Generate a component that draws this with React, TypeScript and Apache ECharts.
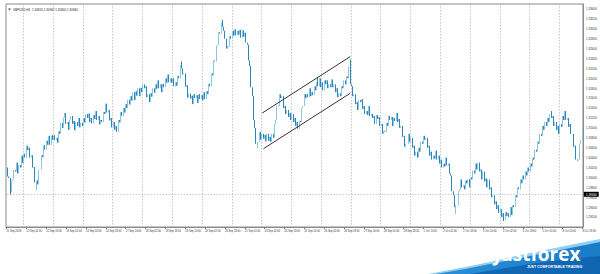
import React, { useEffect, useRef } from 'react';
import * as echarts from 'echarts';

const titleText = 'GBPUSD,H1  1.30820 1.30960 1.30800 1.30940';
const firstLabel = '11 Sep 2018';
const dayNames = ['11 Sep', '12 Sep', '13 Sep', '14 Sep', '17 Sep', '18 Sep', '19 Sep', '20 Sep', '21 Sep', '24 Sep', '25 Sep', '26 Sep', '27 Sep', '28 Sep', '1 Oct', '2 Oct', '3 Oct', '4 Oct', '5 Oct', '8 Oct'];
const firstHour = 10;

const sep11 = [1.3020,1.3002,1.2999,1.2970,1.2994,1.2996,1.3015,1.3012,1.3030,1.3008,1.3025,1.3020,1.3044,1.3029];
const sep12 = [1.3048,1.3040,1.3064,1.3055,1.3060,1.3040,1.3045,1.3020,1.3021,1.2990,1.2994,1.2986,1.3015,1.3016,1.3045,1.3041,1.3065,1.3056,1.3074,1.3066,1.3084,1.3066,1.3085,1.3076];
const sep13 = [1.3085,1.3075,1.3080,1.3070,1.3093,1.3088,1.3110,1.3100,1.3121,1.3130,1.3108,1.3112,1.3096,1.3117,1.3124,1.3108,1.3114,1.3095,1.3112,1.3104,1.3120,1.3101,1.3110,1.3104];
const sep14 = [1.3120,1.3111,1.3128,1.3120,1.3129,1.3112,1.3120,1.3109,1.3126,1.3118,1.3134,1.3116,1.3124,1.3107,1.3116,1.3112,1.3132,1.3128,1.3149,1.3131,1.3136,1.3115,1.3120,1.3101];
const sep17 = [1.3112,1.3096,1.3104,1.3092,1.3116,1.3111,1.3132,1.3124,1.3140,1.3131,1.3148,1.3140,1.3157,1.3147,1.3164,1.3155,1.3172,1.3156,1.3174,1.3165,1.3180,1.3164,1.3181,1.3172];
const sep18 = [1.3188,1.3180,1.3184,1.3162,1.3168,1.3152,1.3170,1.3163,1.3180,1.3171,1.3188,1.3179,1.3196,1.3180,1.3188,1.3172,1.3189,1.3182,1.3200,1.3191,1.3208,1.3192,1.3200,1.3191];
const sep19 = [1.3200,1.3184,1.3192,1.3185,1.3205,1.3200,1.3226,1.3220,1.3208,1.3210,1.3183,1.3186,1.3161,1.3169,1.3159,1.3165,1.3148,1.3168,1.3160,1.3166,1.3150,1.3168,1.3158,1.3166];
const sep20 = [1.3156,1.3172,1.3158,1.3174,1.3168,1.3189,1.3184,1.3210,1.3206,1.3236,1.3234,1.3266,1.3268,1.3293,1.3290,1.3312,1.3304,1.3296,1.3280,1.3260,1.3265,1.3264,1.3285,1.3280];
const sep21 = [1.3296,1.3286,1.3299,1.3287,1.3296,1.3288,1.3298,1.3282,1.3297,1.3284,1.3292,1.3272,1.3268,1.3236,1.3225,1.3182,1.3164,1.3116,1.3100,1.3068,1.3072,1.3072,1.3092,1.3076];
const sep24 = [1.3088,1.3078,1.3086,1.3073,1.3088,1.3074,1.3082,1.3072,1.3088,1.3080,1.3108,1.3116,1.3145,1.3144,1.3168,1.3160,1.3164,1.3140,1.3144,1.3128,1.3136,1.3122,1.3130,1.3116];
const sep25 = [1.3128,1.3112,1.3120,1.3104,1.3112,1.3098,1.3114,1.3112,1.3140,1.3144,1.3168,1.3160,1.3168,1.3162,1.3180,1.3164,1.3172,1.3166,1.3184,1.3176,1.3192,1.3184,1.3200,1.3182];
const sep26 = [1.3192,1.3176,1.3196,1.3188,1.3196,1.3180,1.3188,1.3182,1.3198,1.3182,1.3188,1.3172,1.3180,1.3162,1.3170,1.3164,1.3184,1.3180,1.3196,1.3188,1.3204,1.3200,1.3224,1.3188];
const sep27 = [1.3184,1.3164,1.3168,1.3148,1.3152,1.3136,1.3156,1.3152,1.3158,1.3138,1.3144,1.3128,1.3134,1.3126,1.3144,1.3124,1.3128,1.3120,1.3124,1.3108,1.3126,1.3118,1.3122,1.3104];
const sep28 = [1.3108,1.3088,1.3094,1.3092,1.3110,1.3104,1.3124,1.3116,1.3122,1.3104,1.3120,1.3114,1.3130,1.3112,1.3118,1.3100,1.3104,1.3082,1.3084,1.3062,1.3068,1.3068,1.3088,1.3072];
const oct1 = [1.3080,1.3060,1.3064,1.3044,1.3052,1.3040,1.3060,1.3052,1.3072,1.3068,1.3084,1.3076,1.3080,1.3060,1.3064,1.3044,1.3052,1.3036,1.3044,1.3038,1.3054,1.3036,1.3044,1.3028];
const oct2 = [1.3036,1.3020,1.3028,1.3022,1.3040,1.3024,1.3028,1.3008,1.3004,1.2972,1.2964,1.2940,1.2944,1.2944,1.2972,1.2976,1.2996,1.2980,1.2984,1.2976,1.2994,1.2988,1.2996,1.2980];
const oct3 = [1.3000,1.2996,1.3014,1.3008,1.3028,1.3016,1.3030,1.3012,1.3016,1.2996,1.3012,1.2992,1.2998,1.2980,1.2996,1.2976,1.2980,1.2960,1.2964,1.2946,1.2952,1.2936,1.2944,1.2928];
const oct4 = [1.2936,1.2920,1.2928,1.2914,1.2930,1.2922,1.2928,1.2920,1.2940,1.2924,1.2944,1.2940,1.2964,1.2960,1.2980,1.2976,1.2996,1.2988,1.3004,1.2996,1.3012,1.3004,1.3020,1.3012];
const oct5 = [1.3028,1.3022,1.3040,1.3036,1.3056,1.3052,1.3072,1.3068,1.3088,1.3084,1.3104,1.3096,1.3112,1.3104,1.3120,1.3112,1.3128,1.3120,1.3124,1.3104,1.3112,1.3096,1.3104,1.3088];
const oct8 = [1.3108,1.3102,1.3124,1.3116,1.3134,1.3116,1.3120,1.3102,1.3108,1.3088,1.3088,1.3062,1.3064,1.3036,1.3034,1.3036,1.3068,1.3076,1.3100];

const dayCloses = [sep11, sep12, sep13, sep14, sep17, sep18, sep19, sep20, sep21, sep24, sep25, sep26, sep27, sep28, oct1, oct2, oct3, oct4, oct5, oct8];

// wick extremes: [bar index, price]
const spikeHighs: [number, number][] = [[141, 1.3234], [174, 1.3318], [251, 1.3202], [277, 1.3238], [439, 1.3134]];
const spikeLows: [number, number][] = [[3, 1.2964], [24, 1.2974], [202, 1.3058], [362, 1.2926], [401, 1.2912]];

// trend channel end points: [bar index, price]
const channelUpper: [number, number][] = [[206, 1.3130], [277, 1.3244]];
const channelLower: [number, number][] = [[207, 1.3058], [277, 1.3170]];
const levelLine = 1.2966;
const levelText = '1.29660';

const yMin = 1.29;
const yMax = 1.335;
const yStep = 0.001;

export default function App() {
  const ref = useRef<HTMLDivElement>(null);
  useEffect(() => {
    if (!ref.current) return;
    const chart = echarts.init(ref.current, undefined, { renderer: 'svg' });

    const categories: string[] = [];
    const closes: number[] = [];
    dayCloses.forEach((arr, d) => {
      arr.forEach((c, j) => {
        const h = d === 0 ? firstHour + j : j;
        categories.push(`${dayNames[d]} ${String(h).padStart(2, '0')}:00`);
        closes.push(c);
      });
    });
    const hiMap = new Map(spikeHighs);
    const loMap = new Map(spikeLows);
    const ohlc = closes.map((c, i) => {
      const o = i === 0 ? c : closes[i - 1];
      let lo = Math.min(o, c);
      let hi = Math.max(o, c);
      if (hiMap.has(i)) hi = Math.max(hi, hiMap.get(i)!);
      if (loMap.has(i)) lo = Math.min(lo, loMap.get(i)!);
      return [o, c, lo, hi];
    });
    const lastIdx = categories.length - 1;

    const font = 'Liberation Sans';
    chart.setOption({
      animation: false,
      backgroundColor: '#ffffff',
      grid: { left: 6, right: 17, top: 4, bottom: 47, show: true, borderColor: '#8a8a8a', borderWidth: 1 },
      xAxis: {
        type: 'category',
        data: categories,
        boundaryGap: true,
        axisLine: { lineStyle: { color: '#8a8a8a', width: 1 } },
        axisTick: { show: true, interval: (i: number) => i % 16 === 0, length: 2, alignWithLabel: true, lineStyle: { color: '#777' } },
        axisLabel: {
          interval: (i: number) => i % 16 === 0,
          formatter: (v: string, i: number) => (i === 0 ? firstLabel : v),
          fontSize: 2.6,
          fontFamily: font,
          color: '#333',
          align: 'left',
          margin: 3,
        },
        splitLine: {
          show: true,
          interval: (_i: number, v: string) => v.endsWith(' 00:00'),
          lineStyle: { color: '#b8b8b8', type: [1.5, 1.5], width: 0.8 },
        },
      },
      yAxis: {
        type: 'value',
        position: 'right',
        min: yMin,
        max: yMax,
        interval: yStep,
        axisLine: { show: true, lineStyle: { color: '#8a8a8a', width: 1 } },
        axisTick: { show: false },
        splitLine: { show: false },
        axisLabel: {
          fontSize: 3,
          fontFamily: font,
          color: '#333',
          margin: 3,
          formatter: (v: number) => (Math.round(v * 1000) % 2 === 0 && v < yMax - 1e-9 && v > yMin + 1e-9 ? v.toFixed(5) : ''),
        },
      },
      series: [
        {
          type: 'candlestick',
          data: ohlc,
          barWidth: 1,
          itemStyle: {
            color: '#8fc6e0',
            color0: '#2e86bd',
            borderColor: '#8fc6e0',
            borderColor0: '#2e86bd',
            borderWidth: 1,
          },
          markLine: {
            silent: true,
            symbol: ['none', 'none'],
            animation: false,
            lineStyle: { color: '#333', width: 1, type: 'solid' },
            label: { show: false },
            data: [
              [
                { coord: [channelUpper[0][0], channelUpper[0][1]] },
                { coord: [channelUpper[1][0], channelUpper[1][1]] },
              ],
              [
                { coord: [channelLower[0][0], channelLower[0][1]] },
                { coord: [channelLower[1][0], channelLower[1][1]] },
              ],
              [
                {
                  coord: [0, levelLine],
                  lineStyle: { color: '#bcbcbc', width: 0.8, type: [1.5, 1.5] },
                  label: {
                    show: true,
                    position: 'end',
                    formatter: levelText,
                    backgroundColor: '#000',
                    color: '#fff',
                    fontSize: 3,
                    fontFamily: font,
                    padding: [1, 2],
                    distance: 1.5,
                  },
                },
                { coord: [lastIdx, levelLine] },
              ],
            ],
          },
        },
      ],
      graphic: [
        {
          type: 'polygon',
          shape: { points: [[8, 8.5], [11, 8.5], [9.5, 10.5]] },
          style: { fill: '#555' },
        },
        {
          type: 'text',
          x: 13,
          y: 7.8,
          style: { text: titleText, fontSize: 3, fontFamily: font, fill: '#222' },
        },
        {
          type: 'polygon',
          shape: {
            points: [[428, 274], [460, 268], [490, 262], [520, 255], [550, 249], [575, 244], [600, 239], [600, 274]],
          },
          style: { fill: '#8fd0f2' },
        },
        {
          type: 'polygon',
          shape: {
            points: [[436, 274], [465, 269], [495, 263], [525, 257], [555, 251], [580, 246], [600, 242], [600, 274]],
          },
          style: {
            fill: new echarts.graphic.LinearGradient(0, 0, 1, 0, [
              { offset: 0, color: '#2b8fd6' },
              { offset: 1, color: '#1a7bc9' },
            ]),
          },
        },
        {
          type: 'polygon',
          shape: {
            points: [[470, 274], [500, 269], [530, 264], [560, 260], [600, 256], [600, 274]],
          },
          style: { fill: '#0f62ad', opacity: 0.85 },
        },
        {
          type: 'text',
          x: 494,
          y: 244,
          style: { text: 'Justforex', fontSize: 19, fontWeight: 'bold', fontFamily: 'Open Sans', fill: '#ffffff' },
        },
        {
          type: 'text',
          x: 527,
          y: 265,
          style: { text: 'JUST COMFORTABLE TRADING', fontSize: 3.6, fontWeight: 'bold', fontFamily: font, fill: '#ffffff' },
        },
      ],
    });
    return () => chart.dispose();
  }, []);
  return <div ref={ref} style={{ width: 600, height: 274, position: 'absolute', left: 0, top: 0 }} />;
}
